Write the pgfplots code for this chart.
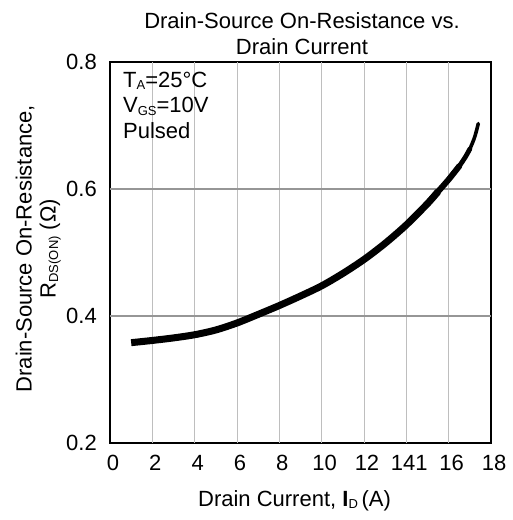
\documentclass[border=0pt]{standalone}
\usepackage{pgfplots}
\pgfplotsset{compat=1.18}
\usepackage{fontspec}
\setmainfont{Liberation Sans}
\newcommand\sub[1]{\raisebox{-2.5bp}{\fontsize{13bp}{13bp}\selectfont #1}}
\definecolor{vgrid}{RGB}{190,190,190}
\definecolor{hgrid}{RGB}{150,150,150}
\begin{document}
\fontsize{22bp}{26bp}\selectfont
\begin{tikzpicture}
\begin{axis}[
  scale only axis,
  width=381bp, height=381bp,
  xmin=0, xmax=18, ymin=0.2, ymax=0.8,
  xtick={0,2,...,18},
  xticklabels={0,2,4,6,8,10,12,141,16,18},
  ytick={0.2,0.4,0.6,0.8},
  yticklabel style={/pgf/number format/fixed,/pgf/number format/precision=1,/pgf/number format/fixed zerofill},
  /pgf/number format/assume math mode=true,
  major tick length=0pt,
  tick label style={font=\fontsize{22bp}{26bp}\selectfont, inner sep=0pt},
  xticklabel style={anchor=north, yshift=-12bp, xshift=3bp},
  yticklabel style={anchor=east, xshift=-13bp},
  axis line style={black, line width=1.2bp},
  title={Drain-Source On-Resistance vs.\\Drain Current},
  title style={align=center, font=\fontsize{22bp}{26bp}\selectfont,
    at={(axis description cs:0.5,1)}, anchor=south, inner sep=0pt, yshift=1bp, xshift=1.5bp},
  xlabel={Drain Current, \textbf{I}\sub{D}\,(A)},
  xlabel style={font=\fontsize{22bp}{26bp}\selectfont,
    at={(axis description cs:0.5,0)}, anchor=north, inner sep=0pt, yshift=-47bp, xshift=-6bp},
  ylabel={Drain-Source On-Resistance,\\R\sub{DS(ON)} (Ω)},
  ylabel style={align=center, font=\fontsize{22bp}{24bp}\selectfont,
    at={(axis description cs:-0.1286,0.51)}, anchor=south, inner sep=0pt, rotate=0},
]
\coordinate (sw) at (rel axis cs:0,0);
\foreach \xv in {2,4,...,16} {
  \edef\tmp{\noexpand\draw[vgrid, line width=1bp] (axis cs:\xv,0.2) -- (axis cs:\xv,0.8);}
  \tmp
}
\draw[hgrid, line width=2bp] (axis cs:0,0.4) -- (axis cs:18,0.4);
\draw[hgrid, line width=2bp] (axis cs:0,0.6) -- (axis cs:18,0.6);
\addplot[black, line width=3.6bp, smooth, line cap=round] coordinates {
(16.8,0.651) (17.0,0.663) (17.2,0.679) (17.3,0.690) (17.4,0.703)
};
\addplot[black, line width=4.8bp, smooth, line cap=round] coordinates {
(16.2,0.624) (16.5,0.636) (16.8,0.651) (17.0,0.663)
};
\addplot[black, line width=6bp, smooth, line cap=round] coordinates {
(15,0.577) (15.5,0.596) (16,0.615) (16.5,0.636)
};
\addplot[black, line width=7bp, smooth, line cap=butt] coordinates {
(1,0.358) (2,0.3615) (3,0.3655) (4,0.3705) (5,0.378) (6,0.389) (7,0.4025)
(8,0.4165) (9,0.4315) (10,0.4475) (11,0.467) (12,0.489) (13,0.5145)
(14,0.5435) (15,0.577) (15.5,0.596)
};
\node[anchor=north west, align=left, inner sep=0pt, font=\fontsize{22bp}{25.5bp}\selectfont]
  at (rel axis cs:0.034,0.974) {T\sub{A}=25°C\\V\sub{GS}=10V\\Pulsed};
\end{axis}
\pgfresetboundingbox
\path (sw) ++(-110bp,-77bp) rectangle ++(513bp,520bp);
\end{tikzpicture}
\end{document}
